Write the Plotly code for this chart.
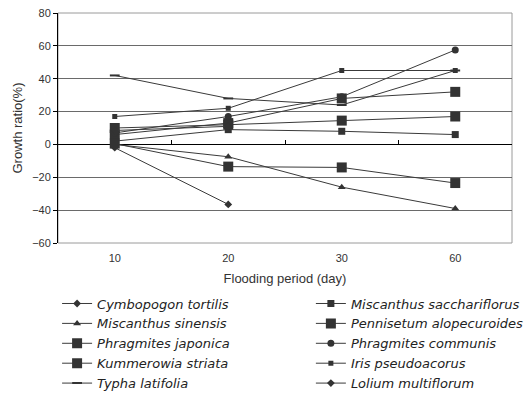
import plotly.graph_objects as go

days = ["10", "20", "30", "60"]

species = [
    "Cymbopogon tortilis", "Miscanthus sacchariflorus",
    "Miscanthus sinensis", "Pennisetum alopecuroides",
    "Phragmites japonica", "Phragmites communis",
    "Kummerowia striata", "Iris pseudoacorus",
    "Typha latifolia", "Lolium multiflorum",
]

cymbopogon = [-2, -36.5, None, None]
sacchariflorus = [2, 9, 8, 6]
sinensis = [0, -7.5, -26, -39]
pennisetum = [6, 13, 28, 32]
japonica = [0.5, -13.5, -14, -23.5]
communis = [7, 17, 29, 57.5]
kummerowia = [10, 12, 14.5, 17]
iris = [17, 22, 45, 45]
typha = [42, 28, 24, 45]
lolium = [8.5, 11, None, None]

values = [cymbopogon, sacchariflorus, sinensis, pennisetum, japonica,
          communis, kummerowia, iris, typha, lolium]

symbols = ["diamond", "square", "triangle-up", "square", "square",
           "circle", "square", "square", "line-ew-open", "diamond"]
sizes = [6, 7, 7, 10, 10, 7, 10, 5, 7, 6]

fig = go.Figure()
for i, (name, vals, sym, sz) in enumerate(zip(species, values, symbols, sizes)):
    fig.add_trace(go.Scatter(
        x=days, y=vals, name=name, mode="lines+markers",
        line=dict(color="#3a3a3a", width=1),
        marker=dict(symbol=sym, size=sz, color="#333333",
                    line=dict(color="#333333", width=2 if sym == "line-ew-open" else 0)),
        connectgaps=False,
        legend="legend" if i % 2 == 0 else "legend2",
    ))

# invisible trace to carry the zero-crossing x axis ticks
fig.add_trace(go.Scatter(x=days, y=[None]*4, xaxis="x2", showlegend=False,
                         hoverinfo="skip"))

legend_common = dict(
    orientation="v", yanchor="top", xanchor="left", y=-0.198,
    font=dict(family="DejaVu Sans, Liberation Sans, sans-serif",
              size=13, color="#222222", style="italic"),
    tracegroupgap=0, itemwidth=30, bgcolor="rgba(0,0,0,0)",
)

fig.update_layout(
    width=524, height=394,
    margin=dict(l=58, r=12, t=13, b=151, autoexpand=False),
    plot_bgcolor="white", paper_bgcolor="white",
    font=dict(family="Liberation Sans, Arial, sans-serif", color="#333333"),
    showlegend=True,
    xaxis=dict(
        type="category", categoryarray=days, range=[-0.5, 3.5],
        showgrid=False, ticks="", showline=False,
        tickfont=dict(size=11, color="#333333"), ticklabelstandoff=7,
        title=dict(text="Flooding period (day)", font=dict(size=13, color="#333333"),
                   standoff=10),
    ),
    xaxis2=dict(
        type="category", categoryarray=days, range=[-0.5, 3.5],
        overlaying="x", anchor="free", position=60/140, side="bottom",
        showgrid=False, showline=False, showticklabels=False,
        ticks="inside", tickson="boundaries", ticklen=4, tickcolor="#000000",
        tickwidth=1,
    ),
    yaxis=dict(
        range=[-60, 80], dtick=20, tick0=0,
        showgrid=True, gridcolor="#6a6a6a", gridwidth=1,
        zeroline=True, zerolinecolor="#000000", zerolinewidth=1,
        showline=True, linecolor="#000000", linewidth=1,
        ticks="outside", ticklen=4, tickcolor="#000000",
        tickfont=dict(size=11, color="#333333"),
        title=dict(text="Growth ratio(%)", font=dict(size=13, color="#333333"),
                   standoff=6),
    ),
    legend=dict(x=-0.002, **legend_common),
    legend2=dict(x=0.557, **legend_common),
    shapes=[dict(type="rect", xref="paper", yref="paper", x0=0, x1=1, y0=0, y1=1,
                 line=dict(color="#9a9a9a", width=1), layer="below")],
)

fig.write_html("out.html", config={"displayModeBar": False},
               post_script="document.body.style.margin='0';")
